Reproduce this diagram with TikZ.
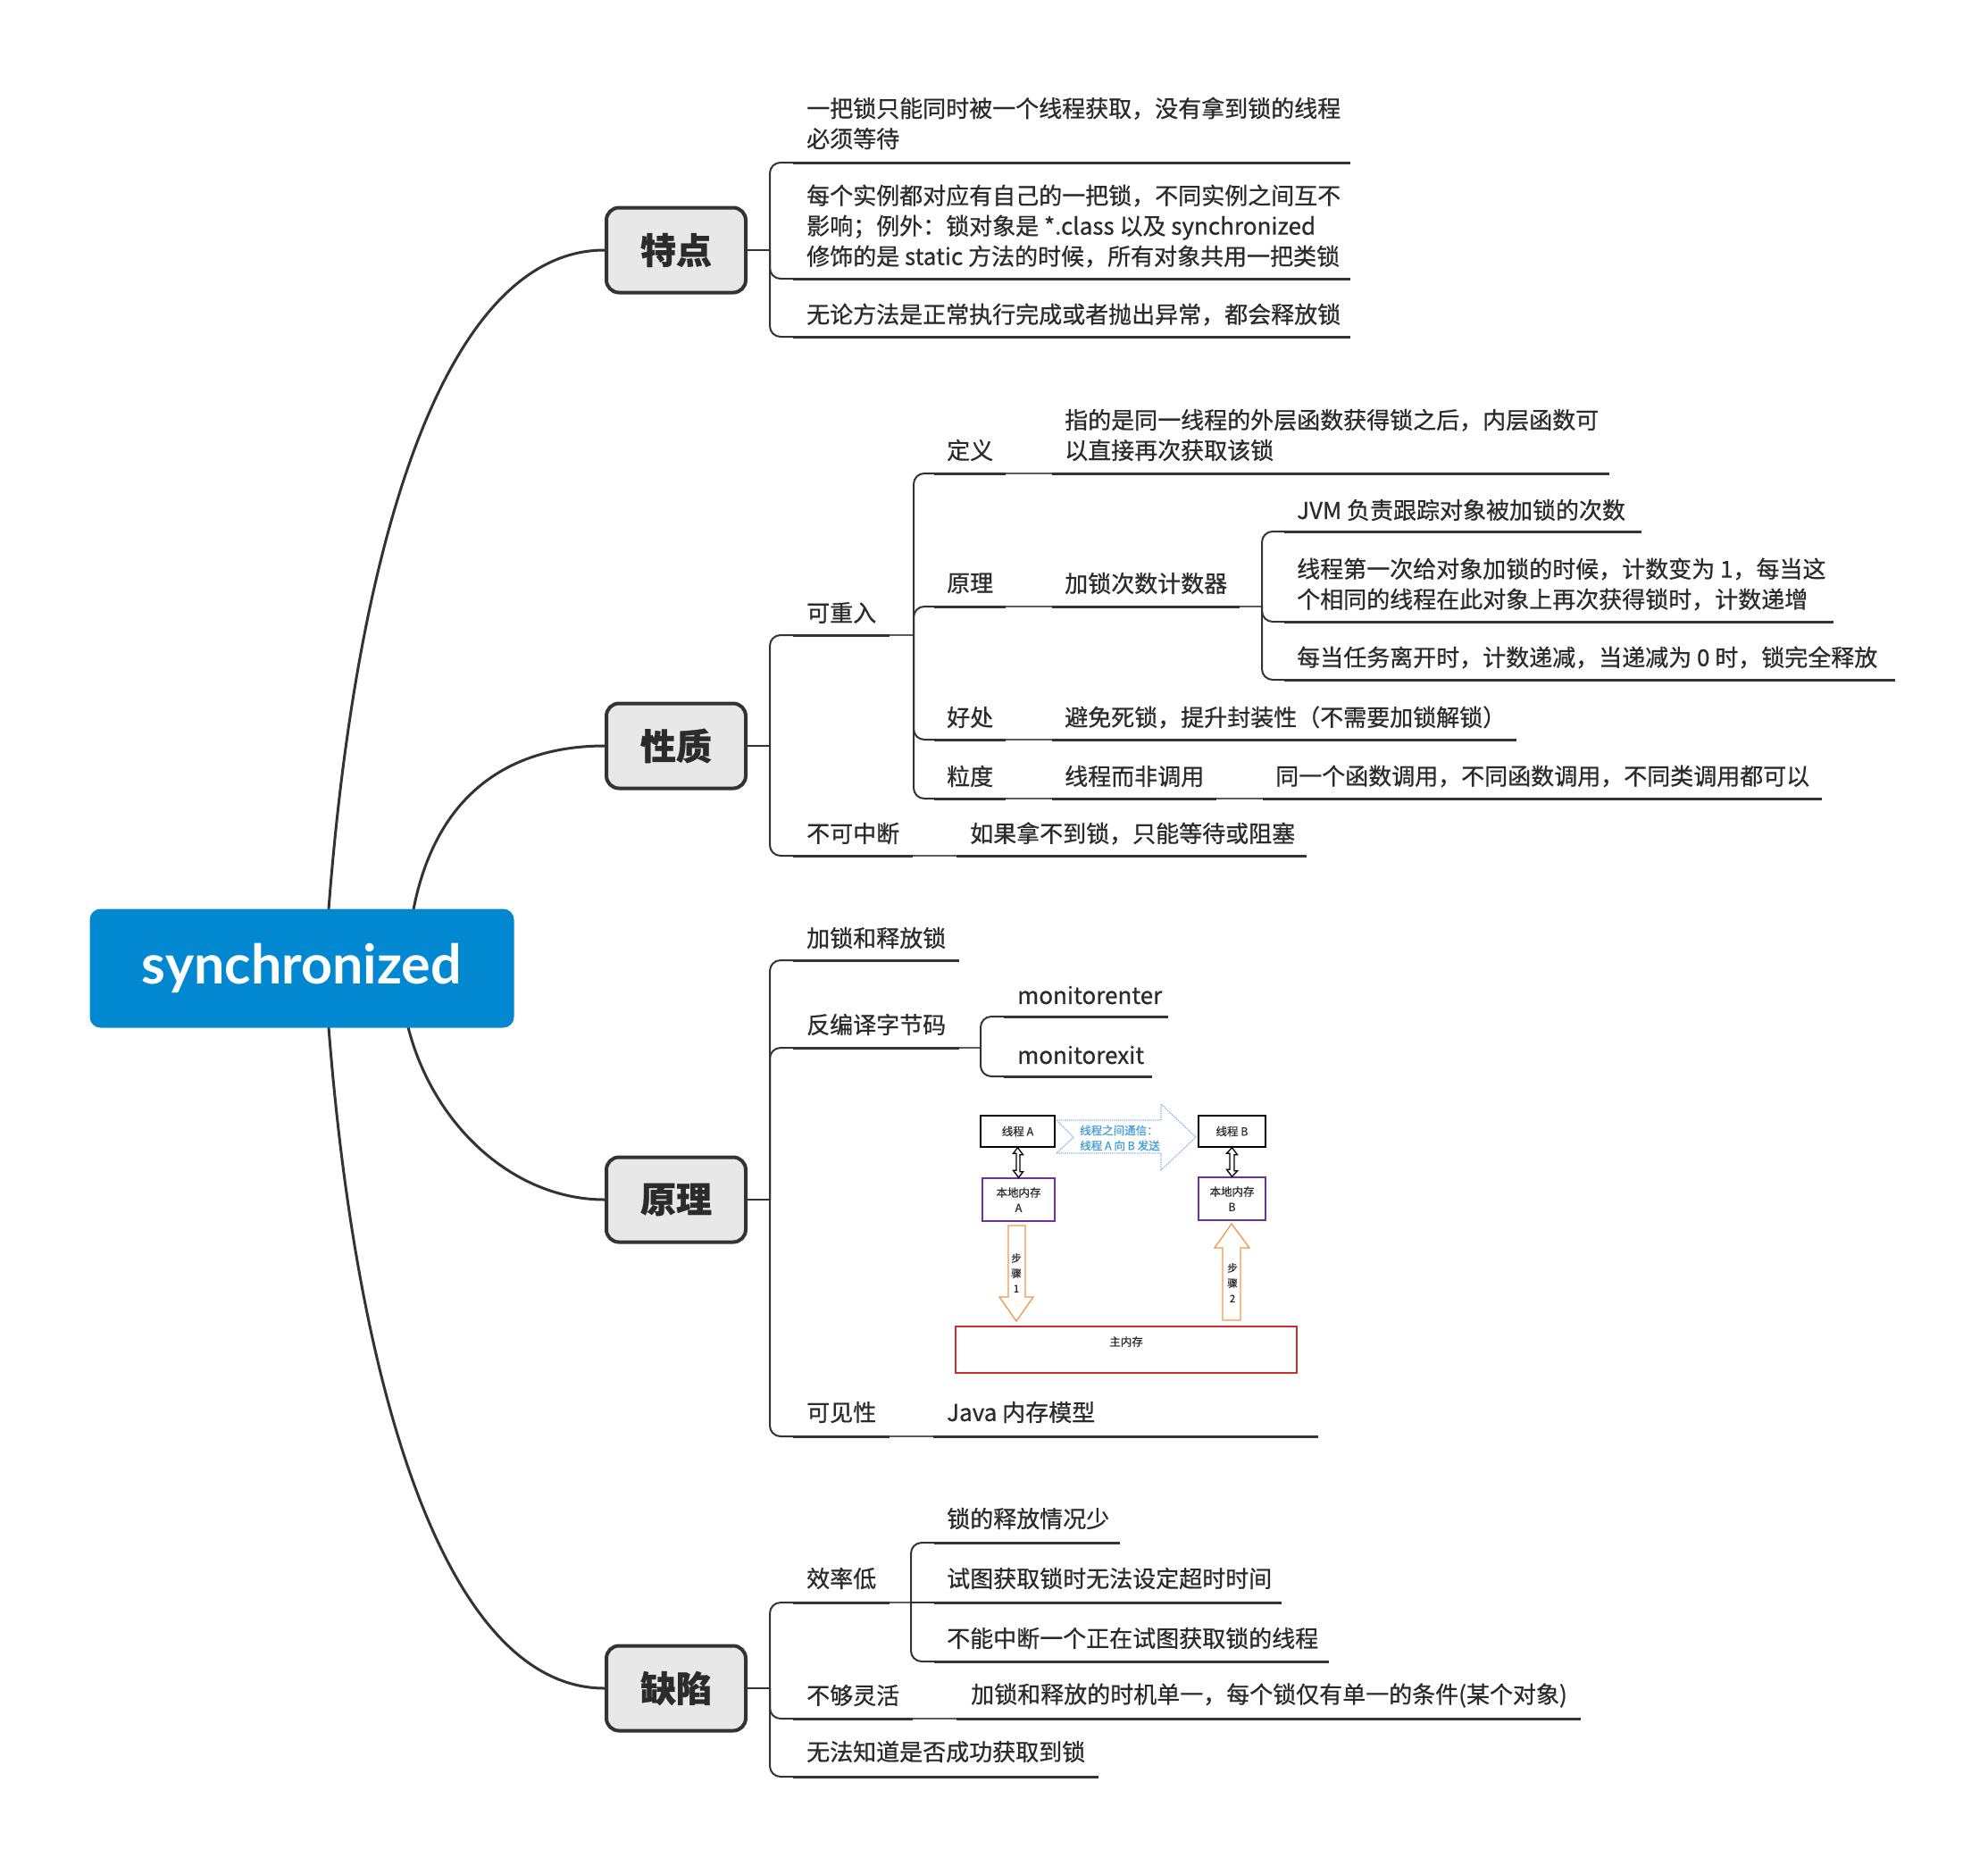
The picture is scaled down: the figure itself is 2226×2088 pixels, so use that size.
\documentclass[tikz,border=0pt]{standalone}
\usepackage{fontspec}
\setmainfont{Noto Sans CJK SC}[FakeBold=0.7]
\newfontfamily\smallfont{Noto Sans CJK SC}[FakeBold=0.4]
\newfontfamily\latofont{Lato}
\definecolor{linec}{HTML}{333333}
\definecolor{textc}{HTML}{2B2B2B}
\definecolor{boxfill}{HTML}{E8E8E8}
\definecolor{rootblue}{HTML}{0288D1}
\definecolor{arrblue}{HTML}{8EB4E3}
\definecolor{txtblue}{HTML}{3E9BD6}
\definecolor{purp}{HTML}{7030A0}
\definecolor{orng}{HTML}{F79646}
\definecolor{redb}{HTML}{C9302C}
\tikzset{
  curve/.style={draw=linec, line width=3pt},
  conn/.style={draw=linec, line width=2pt, rounded corners=12pt},
  uline/.style={draw=linec, line width=3pt},
  thin/.style={draw=linec!80, line width=2pt},
  txt/.style={anchor=west, inner sep=0pt, align=left, text=textc, font=\fontsize{26}{34}\selectfont},
  maintopic/.style={draw=linec, line width=4pt, fill=boxfill, rounded corners=14pt,
     minimum width=156pt, minimum height=95pt, inner sep=0pt, text=textc,
     font=\bfseries\fontsize{40}{40}\selectfont},
  rootbox/.style={fill=rootblue, rounded corners=12pt, minimum width=475pt, minimum height=133pt,
     inner sep=0pt, text=white, font=\latofont\bfseries\fontsize{61}{64}\selectfont},
  smbox/.style={draw, line width=1.5pt, inner sep=0pt},
  smtxt/.style={inner sep=0pt, text=textc, align=center, font=\smallfont\fontsize{12.5}{17}\selectfont},
  hollow/.style={line width=1.3pt}
}
\begin{document}
\begin{tikzpicture}[x=1pt,y=-1pt]
\useasboundingbox[fill=white] (0,0) rectangle (2226,2088);

% main topics
\node[maintopic] (tedian) at (757,280) {特点};
\node[maintopic] (xingzhi) at (757,835) {性质};
\node[maintopic] (yuanli) at (757,1343) {原理};
\node[maintopic] (quexian) at (757,1890) {缺陷};

% curves from root
\coordinate (r1) at (368,1018);
\coordinate (r2) at (463,1018);
\coordinate (r3) at (457,1150);
\coordinate (r4) at (368,1150);
\draw[curve] (r1) .. controls (400,600) and (500,280) .. (tedian.west);
\draw[curve] (r2) .. controls (490,880) and (580,835) .. (xingzhi.west);
\draw[curve] (r3) .. controls (485,1260) and (575,1343) .. (yuanli.west);
\draw[curve] (r4) .. controls (400,1560) and (500,1890) .. (quexian.west);

\node[rootbox] (root) at (338,1084) {synchronized};

% ================= 特点 =================
\coordinate (b1) at (862,280);
\draw[conn] (tedian.east) -- (b1);
\draw[conn] (b1) |- (888,182);
\draw[conn] (b1) |- (888,312);
\draw[conn] (b1) |- (888,377);
\draw[uline] (888,182) -- (1512,182);
\draw[uline] (888,312) -- (1512,312);
\draw[uline] (888,377) -- (1512,377);
\node[txt] (td1) at (903,138) {一把锁只能同时被一个线程获取，没有拿到锁的线程\\必须等待};
\node[txt] (td2) at (903,253) {每个实例都对应有自己的一把锁，不同实例之间互不\\影响；例外：锁对象是 *.class 以及 synchronized\\修饰的是 static 方法的时候，所有对象共用一把类锁};
\node[txt] (td3) at (903,352) {无论方法是正常执行完成或者抛出异常，都会释放锁};

% ================= 性质 =================
\coordinate (b2) at (862,835);
\draw[conn] (xingzhi.east) -- (b2);
\draw[conn] (b2) |- (888,711);
\draw[conn] (b2) |- (888,958);
\draw[uline] (888,711) -- (996,711);
\draw[uline] (888,958) -- (1022,958);
\node[txt] (kcr) at (903,686) {可重入};
\node[txt] (bkzd) at (903,933) {不可中断};
% 可重入 children
\coordinate (b21) at (1023,711);
\draw[thin] (996,711) -- (b21);
\draw[conn] (b21) |- (1046,530);
\draw[conn] (b21) |- (1046,679);
\draw[conn] (b21) |- (1046,828);
\draw[conn] (b21) |- (1046,894);
% 定义
\draw[uline] (1046,530) -- (1126,530);
\draw[thin] (1126,530) -- (1178,530);
\draw[uline] (1178,530) -- (1802,530);
\node[txt] (dy) at (1060,504) {定义};
\node[txt] (dyc) at (1192,487) {指的是同一线程的外层函数获得锁之后，内层函数可\\以直接再次获取该锁};
% 原理
\draw[uline] (1046,679) -- (1126,679);
\draw[thin] (1126,679) -- (1178,679);
\draw[uline] (1178,679) -- (1388,679);
\node[txt] (yl2) at (1060,653) {原理};
\node[txt] (jsq) at (1192,653) {加锁次数计数器};
\coordinate (b22) at (1413,679);
\draw[thin] (1388,679) -- (b22);
\draw[conn] (b22) |- (1438,595);
\draw[conn] (b22) |- (1438,696);
\draw[conn] (b22) |- (1438,761);
\draw[uline] (1438,595) -- (1838,595);
\draw[uline] (1438,696) -- (2053,696);
\draw[uline] (1438,761) -- (2122,761);
\node[txt] (jvm) at (1452,571) {JVM 负责跟踪对象被加锁的次数};
\node[txt] (dyci) at (1452,654) {线程第一次给对象加锁的时候，计数变为 1，每当这\\个相同的线程在此对象上再次获得锁时，计数递增};
\node[txt] (lk) at (1452,736) {每当任务离开时，计数递减，当递减为 0 时，锁完全释放};
% 好处
\draw[uline] (1046,828) -- (1126,828);
\draw[thin] (1126,828) -- (1178,828);
\draw[uline] (1178,828) -- (1698,828);
\node[txt] (hc) at (1060,803) {好处};
\node[txt] (hcc) at (1192,803) {避免死锁，提升封装性（不需要加锁解锁）};
% 粒度
\draw[uline] (1046,894) -- (1126,894);
\draw[thin] (1126,894) -- (1178,894);
\draw[uline] (1178,894) -- (1362,894);
\draw[thin] (1362,894) -- (1414,894);
\draw[uline] (1414,894) -- (2040,894);
\node[txt] (ld) at (1060,869) {粒度};
\node[txt] (ldc) at (1192,869) {线程而非调用};
\node[txt] (ldcc) at (1428,869) {同一个函数调用，不同函数调用，不同类调用都可以};
% 不可中断 child
\draw[thin] (1022,958) -- (1071,958);
\draw[uline] (1071,958) -- (1463,958);
\node[txt] (bkzdc) at (1086,933) {如果拿不到锁，只能等待或阻塞};

% ================= 原理 =================
\coordinate (b3) at (862,1343);
\draw[conn] (yuanli.east) -- (b3);
\draw[conn] (b3) |- (888,1075);
\draw[conn] (b3) |- (888,1173);
\draw[conn] (b3) |- (888,1608);
\draw[uline] (888,1075) -- (1074,1075);
\draw[uline] (888,1173) -- (1074,1173);
\draw[uline] (888,1608) -- (996,1608);
\node[txt] (jssf) at (903,1050) {加锁和释放锁};
\node[txt] (fby) at (903,1147) {反编译字节码};
\node[txt] (kjx) at (903,1581) {可见性};
\coordinate (b31) at (1098,1173);
\draw[thin] (1074,1173) -- (b31);
\draw[conn] (b31) |- (1124,1138);
\draw[conn] (b31) |- (1124,1205);
\draw[uline] (1124,1138) -- (1308,1138);
\draw[uline] (1124,1205) -- (1290,1205);
\node[txt] (men) at (1139,1114) {monitorenter};
\node[txt] (mex) at (1139,1181) {monitorexit};
\draw[thin] (996,1608) -- (1045,1608);
\draw[uline] (1045,1608) -- (1476,1608);
\node[txt] (jmm) at (1060,1581) {Java 内存模型};

% ---- memory model picture ----
\node[smbox, minimum width=83pt, minimum height=35pt] (ta) at (1139.5,1266.5) {};
\node[smtxt] at (ta.center) {线程 A};
\node[smbox, minimum width=75pt, minimum height=35pt] (tb) at (1379.5,1266.5) {};
\node[smtxt] at (tb.center) {线程 B};
\node[smbox, draw=purp, minimum width=81pt, minimum height=48pt] (la) at (1140.5,1343) {};
\node[smtxt] at (la.center) {本地内存\\A};
\node[smbox, draw=purp, minimum width=75pt, minimum height=48pt] (lb) at (1379.5,1342) {};
\node[smtxt] at (lb.center) {本地内存\\B};
\node[smbox, draw=redb, minimum width=382pt, minimum height=52pt] (mm) at (1261,1511) {};
\node[smtxt] at (1261,1502) {主内存};
% blue communication arrow
\draw[arrblue, densely dotted, line width=1.3pt]
  (1183,1254) -- (1300,1254) -- (1300,1236) -- (1339,1273) -- (1300,1310) -- (1300,1291)
  -- (1183,1291) -- (1202,1273) -- cycle;
\node[smtxt, text=txtblue, align=left, anchor=west] (comm) at (1209,1274) {线程之间通信：\\线程 A 向 B 发送};
% double arrows
\draw[hollow] (ta.south) -- ++(6,8) -- ++(-3.5,0) -- ++(0,19) -- ++(3.5,0) -- (la.north)
  -- ++(-6,-8) -- ++(3.5,0) -- ++(0,-19) -- ++(-3.5,0) -- cycle;
\draw[hollow] (tb.south) -- ++(6,8) -- ++(-3.5,0) -- ++(0,18) -- ++(3.5,0) -- (lb.north)
  -- ++(-6,-8) -- ++(3.5,0) -- ++(0,-18) -- ++(-3.5,0) -- cycle;
% step arrows
\draw[orng, line width=1.3pt] (1129,1372) -- (1148,1372) -- (1148,1452) -- (1157,1452)
  -- (1138,1479) -- (1119,1452) -- (1129,1452) -- cycle;
\node[smtxt, font=\smallfont\fontsize{11.5}{17}\selectfont] (s1) at (1138,1425) {步\\骤\\1};
\draw[orng, line width=1.3pt] (1369,1478) -- (1389,1478) -- (1389,1397) -- (1399,1397)
  -- (1379,1370) -- (1360,1397) -- (1369,1397) -- cycle;
\node[smtxt, font=\smallfont\fontsize{11.5}{17}\selectfont] (s2) at (1380,1436) {步\\骤\\2};

% ================= 缺陷 =================
\coordinate (b4) at (862,1890);
\draw[conn] (quexian.east) -- (b4);
\draw[conn] (b4) |- (888,1794);
\draw[conn] (b4) |- (888,1924);
\draw[conn] (b4) |- (888,1989);
\draw[uline] (888,1794) -- (996,1794);
\draw[uline] (888,1924) -- (1022,1924);
\draw[uline] (888,1989) -- (1230,1989);
\node[txt] (xld) at (903,1767) {效率低};
\node[txt] (bgl) at (903,1898) {不够灵活};
\node[txt] (wfzd) at (903,1961) {无法知道是否成功获取到锁};
\coordinate (b41) at (1020,1794);
\draw[thin] (996,1794) -- (b41);
\draw[conn] (b41) |- (1046,1727);
\draw[conn] (b41) -- (1046,1794);
\draw[conn] (b41) |- (1046,1860);
\draw[uline] (1046,1727) -- (1254,1727);
\draw[uline] (1046,1794) -- (1435,1794);
\draw[uline] (1046,1860) -- (1488,1860);
\node[txt] (q1) at (1060,1700) {锁的释放情况少};
\node[txt] (q2) at (1060,1767) {试图获取锁时无法设定超时时间};
\node[txt] (q3) at (1060,1834) {不能中断一个正在试图获取锁的线程};
\draw[thin] (1022,1924) -- (1071,1924);
\draw[uline] (1071,1924) -- (1770,1924);
\node[txt] (bglc) at (1087,1898) {加锁和释放的时机单一，每个锁仅有单一的条件(某个对象)};
\end{tikzpicture}
\end{document}
